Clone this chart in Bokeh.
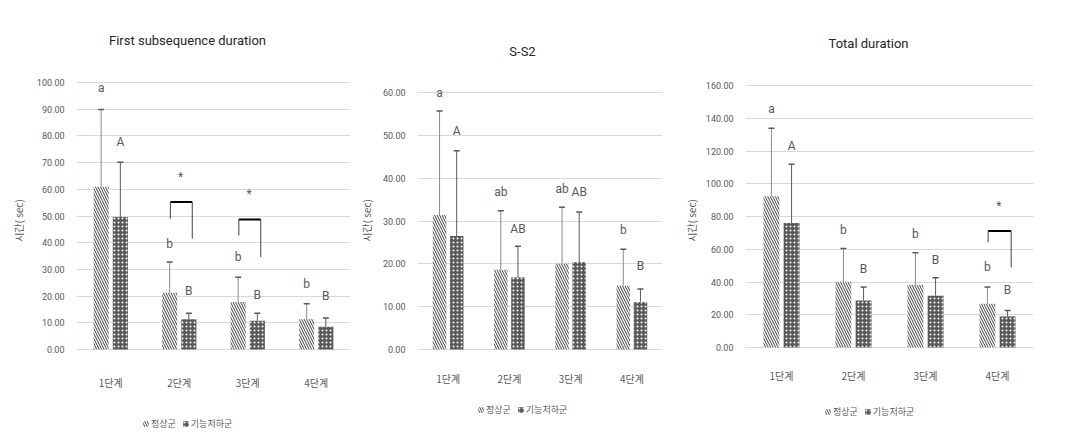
from bokeh.plotting import figure
from bokeh.layouts import row
from bokeh.models import (Range1d, FixedTicker, Whisker, TeeHead, ColumnDataSource,
                          Legend, LegendItem, Label)
from bokeh.transform import dodge
from bokeh.core.properties import value
from bokeh.embed import file_html
from bokeh.resources import INLINE

categories = ["1단계", "2단계", "3단계", "4단계"]
groups = ["정상군", "기능저하군"]
y_axis_label = "시간( sec)"

# Panel 1 : First subsequence duration
p1_title = "First subsequence duration"
p1_ticks = [0, 10, 20, 30, 40, 50, 60, 70, 80, 90, 100]
p1_normal = [61.0, 21.3, 17.8, 11.3]
p1_normal_sd = [28.9, 11.5, 9.3, 5.8]
p1_low = [49.6, 11.3, 10.8, 8.5]
p1_low_sd = [20.5, 2.3, 2.8, 3.3]
p1_normal_letters = ["a", "b", "b", "b"]
p1_normal_letter_y = [98.0, 39.6, 34.6, 24.7]
p1_low_letters = ["A", "B", "B", "B"]
p1_low_letter_y = [77.6, 22.0, 20.3, 19.9]
p1_sig_cat = [2, 3]
p1_sig_top = [55.2, 48.7]
p1_sig_left = [49.0, 42.7]
p1_sig_right = [41.5, 34.6]
p1_sig_star = [64.5, 58.3]

# Panel 2 : S-S2
p2_title = "S-S2"
p2_ticks = [0, 10, 20, 30, 40, 50, 60]
p2_normal = [31.4, 18.6, 20.1, 14.9]
p2_normal_sd = [24.3, 13.8, 13.1, 8.5]
p2_low = [26.5, 16.8, 20.4, 11.1]
p2_low_sd = [19.9, 7.3, 11.7, 3.0]
p2_normal_letters = ["a", "ab", "ab", "b"]
p2_normal_letter_y = [60.0, 36.7, 37.5, 27.8]
p2_low_letters = ["A", "AB", "AB", "B"]
p2_low_letter_y = [51.1, 28.2, 36.7, 19.5]
p2_sig_cat = []
p2_sig_top = []
p2_sig_left = []
p2_sig_right = []
p2_sig_star = []

# Panel 3 : Total duration
p3_title = "Total duration"
p3_ticks = [0, 20, 40, 60, 80, 100, 120, 140, 160]
p3_normal = [92.3, 40.2, 38.3, 26.7]
p3_normal_sd = [41.6, 20.3, 19.6, 10.2]
p3_low = [76.0, 28.7, 31.6, 19.0]
p3_low_sd = [35.9, 8.2, 11.0, 3.6]
p3_normal_letters = ["a", "b", "b", "b"]
p3_normal_letter_y = [145.7, 71.7, 69.3, 48.9]
p3_low_letters = ["A", "B", "B", "B"]
p3_low_letter_y = [123.3, 47.9, 53.6, 35.1]
p3_sig_cat = [4]
p3_sig_top = [71.1]
p3_sig_left = [64.2]
p3_sig_right = [48.9]
p3_sig_star = [86.2]

LAT = "Roboto"
KR = "Noto Sans CJK KR"
GRAY = "#595959"
OFF = 0.14
BW = 0.22
H = 440


def make_panel(title, ticks, normal, normal_sd, low, low_sd,
               nl, nly, ll, lly, sig_cat, sig_top, sig_left, sig_right, sig_star,
               width, b_left, b_right, zero_px, top_px,
               title_xy, legend_xy, cat_offset, axis_label_standoff):
    xs = list(range(1, len(categories) + 1))
    # vertical mapping: tick 0 at pixel zero_px, top tick at pixel top_px (from top)
    k = ticks[-1] / (zero_px - top_px)
    y_start = -(H - zero_px) * k
    y_end = ticks[-1] + top_px * k
    src = ColumnDataSource(dict(
        x=xs, cat=categories, normal=normal, low=low,
        normal_up=[m + s for m, s in zip(normal, normal_sd)],
        low_up=[m + s for m, s in zip(low, low_sd)],
        nl=nl, nly=nly, ll=ll, lly=lly, base=[0] * len(xs),
    ))
    p = figure(width=width, height=H, output_backend="svg", toolbar_location=None,
               x_range=Range1d(0.5, len(categories) + 0.5), y_range=Range1d(y_start, y_end),
               x_axis_location=None,
               min_border_left=b_left, min_border_right=b_right,
               min_border_top=0, min_border_bottom=0)
    p.outline_line_color = None
    p.background_fill_color = "white"
    p.border_fill_color = "white"
    p.xgrid.grid_line_color = None

    rn = p.vbar(x=dodge("x", -OFF), top="normal", width=BW, source=src,
                fill_color="white", line_color=None,
                hatch_pattern="\\", hatch_color="#404040", hatch_scale=5, hatch_weight=1)
    rl = p.vbar(x=dodge("x", OFF), top="low", width=BW, source=src,
                fill_color="#595959", line_color=None,
                hatch_pattern=".", hatch_color="white", hatch_scale=4, hatch_weight=1)

    p.add_layout(Whisker(source=src, base=dodge("x", -OFF), lower="normal", upper="normal_up",
                         line_color="#8c8c8c", line_width=1, lower_head=None,
                         upper_head=TeeHead(size=6, line_color="#595959", line_width=1.5),
                         level="glyph"))
    p.add_layout(Whisker(source=src, base=dodge("x", OFF), lower="low", upper="low_up",
                         line_color="#595959", line_width=1, lower_head=None,
                         upper_head=TeeHead(size=6, line_color="#595959", line_width=1.5),
                         level="glyph"))

    p.text(x=dodge("x", -OFF), y="nly", text="nl", source=src, text_align="center",
           text_baseline="middle", text_font=value(LAT), text_font_size="12px",
           text_color=GRAY)
    p.text(x=dodge("x", OFF), y="lly", text="ll", source=src, text_align="center",
           text_baseline="middle", text_font=value(LAT), text_font_size="12px",
           text_color=GRAY)

    # category labels under the zero line
    p.text(x="x", y="base", text="cat", source=src, text_align="center",
           text_baseline="middle", y_offset=cat_offset, text_font=value(KR),
           text_font_size="10px", text_color=GRAY)

    if sig_cat:
        ssrc = ColumnDataSource(dict(cat=sig_cat, top=sig_top, left=sig_left,
                                     right=sig_right, star=sig_star,
                                     s=["*"] * len(sig_cat)))
        p.segment(x0=dodge("cat", -0.13), x1=dodge("cat", 0.19), y0="top", y1="top",
                  source=ssrc, line_color="black", line_width=2)
        p.segment(x0=dodge("cat", -0.13), x1=dodge("cat", -0.13), y0="top", y1="left",
                  source=ssrc, line_color="#404040", line_width=1)
        p.segment(x0=dodge("cat", 0.19), x1=dodge("cat", 0.19), y0="top", y1="right",
                  source=ssrc, line_color="#404040", line_width=1)
        p.text(x=dodge("cat", 0.02), y="star", text="s", source=ssrc, text_align="center",
               text_baseline="middle", text_font=value(LAT), text_font_size="12px",
               text_color=GRAY)

    p.ygrid.grid_line_color = "#d9d9d9"
    p.ygrid.grid_line_width = 1
    p.yaxis.ticker = FixedTicker(ticks=ticks)
    p.yaxis.major_label_overrides = {t: f"{t:.2f}" for t in ticks}
    p.yaxis.axis_line_color = None
    p.yaxis.major_tick_line_color = None
    p.yaxis.minor_tick_line_color = None
    p.yaxis.major_label_text_font = LAT
    p.yaxis.major_label_text_font_size = "9px"
    p.yaxis.major_label_text_color = GRAY
    p.yaxis.major_label_standoff = 6
    p.yaxis.axis_label = y_axis_label
    p.yaxis.axis_label_text_font = KR
    p.yaxis.axis_label_text_font_style = "normal"
    p.yaxis.axis_label_text_font_size = "10px"
    p.yaxis.axis_label_text_color = GRAY
    p.yaxis.axis_label_standoff = axis_label_standoff

    p.add_layout(Label(x=title_xy[0], y=title_xy[1], x_units="screen", y_units="screen",
                       text=title, text_align="center", text_baseline="middle",
                       text_font=LAT, text_font_size="13px", text_color="#262626"))

    legend = Legend(items=[LegendItem(label=groups[0], renderers=[rn]),
                           LegendItem(label=groups[1], renderers=[rl])],
                    location=legend_xy, orientation="horizontal",
                    label_text_font=KR, label_text_font_size="9px",
                    label_text_color=GRAY, glyph_width=7, glyph_height=7,
                    label_standoff=2, spacing=6, padding=0, margin=0,
                    border_line_color=None, background_fill_alpha=0,
                    label_height=10)
    p.add_layout(legend)
    return p


p1 = make_panel(p1_title, p1_ticks, p1_normal, p1_normal_sd, p1_low, p1_low_sd,
                p1_normal_letters, p1_normal_letter_y, p1_low_letters, p1_low_letter_y,
                p1_sig_cat, p1_sig_top, p1_sig_left, p1_sig_right, p1_sig_star,
                355, 76, 5, 349, 82, (111, 400), (66, 10), 33, 8)
p2 = make_panel(p2_title, p2_ticks, p2_normal, p2_normal_sd, p2_low, p2_low_sd,
                p2_normal_letters, p2_normal_letter_y, p2_low_letters, p2_low_letter_y,
                p2_sig_cat, p2_sig_top, p2_sig_left, p2_sig_right, p2_sig_star,
                325, 55, 18, 349, 92, (105, 389), (60, 24), 29, 6)
p3 = make_panel(p3_title, p3_ticks, p3_normal, p3_normal_sd, p3_low, p3_low_sd,
                p3_normal_letters, p3_normal_letter_y, p3_low_letters, p3_low_letter_y,
                p3_sig_cat, p3_sig_top, p3_sig_left, p3_sig_right, p3_sig_star,
                385, 48, 32, 347, 85, (123, 397), (79, 22), 28, 4)

layout = row(p1, p2, p3, spacing=0)
open("out.html", "w").write(file_html(layout, INLINE))
